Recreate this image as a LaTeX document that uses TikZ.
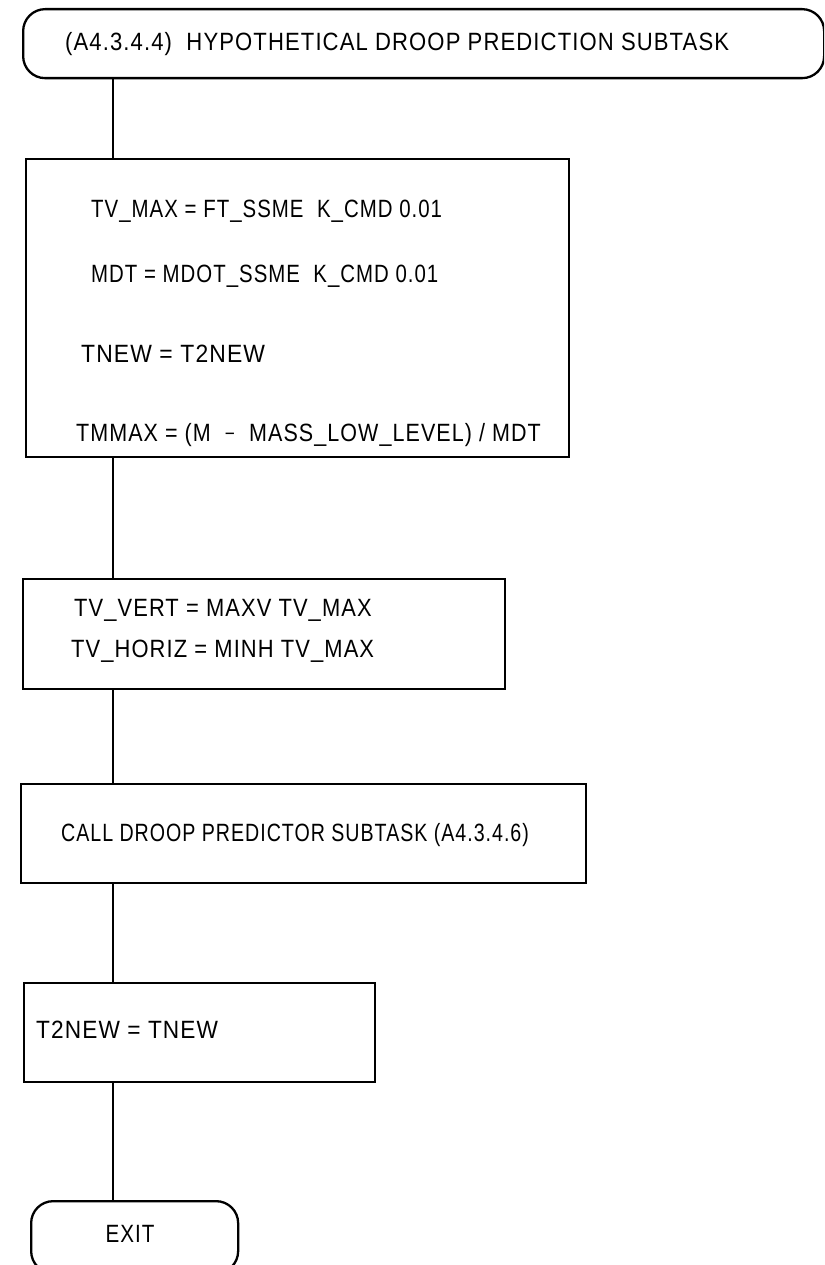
\documentclass[tikz,border=0pt]{standalone}
\usepackage{fontspec}
\usepackage{graphicx}
\setmainfont[LetterSpace=5]{Liberation Sans}
\newcommand{\hsq}[2]{\scalebox{#1}[1]{#2}}
\begin{document}
\begin{tikzpicture}[x=1pt,y=-1pt,line width=2.3pt,
  box/.style={draw,rectangle,inner sep=0pt,anchor=north west},
  term/.style={draw,rectangle,rounded corners=22pt,inner sep=0pt,anchor=north west},
  txt/.style={anchor=base west,inner sep=0pt,font=\fontsize{25}{30}\selectfont},
  conn/.style={draw,line width=2.3pt}]
\useasboundingbox (0,0) rectangle (824,1265);
\clip (0,0) rectangle (824,1265);
\coordinate (cx) at (113,0);
% start terminal
\node[term,minimum width=801pt,minimum height=69pt] (start) at (22,8) {};
\node[txt] (ttl) at (64,51) {\hsq{0.883}{(A4.3.4.4)\ \ HYPOTHETICAL DROOP PREDICTION SUBTASK}};
% box 1
\node[box,minimum width=543pt,minimum height=298pt] (b1) at (25,158) {};
\node[txt] (l1) at (90,218) {\hsq{0.817}{TV\_MAX = FT\_SSME\ \ K\_CMD 0.01}};
\node[txt] (l2) at (90,282) {\hsq{0.816}{MDT = MDOT\_SSME\ \ K\_CMD 0.01}};
\node[txt] (l3) at (80,362) {\hsq{0.916}{TNEW = T2NEW}};
\node[txt] (l4) at (75,441) {\hsq{0.86}{TMMAX = (M\ \ \raisebox{1pt}{\fontsize{20}{24}\selectfont −}\ \ MASS\_LOW\_LEVEL) / MDT}};
% box 2
\node[box,minimum width=482pt,minimum height=110pt] (b2) at (22,578) {};
\node[txt] (l5) at (73,616) {\hsq{0.876}{TV\_VERT = MAXV TV\_MAX}};
\node[txt] (l6) at (70,657) {\hsq{0.877}{TV\_HORIZ = MINH TV\_MAX}};
% box 3
\node[box,minimum width=565pt,minimum height=99pt] (b3) at (20,783) {};
\node[txt] (l7) at (60,841) {\hsq{0.785}{CALL DROOP PREDICTOR SUBTASK (A4.3.4.6)}};
% box 4
\node[box,minimum width=351pt,minimum height=99pt] (b4) at (23,982) {};
\node[txt] (l8) at (35,1038) {\hsq{0.906}{T2NEW = TNEW}};
% exit terminal
\node[term,minimum width=207pt,minimum height=72pt] (exit) at (30,1200) {};
\node[txt,anchor=base] (ex) at (130,1242) {\hsq{0.825}{EXIT}};
% connectors
\draw[conn] (start.south -| cx) -- (b1.north -| cx);
\draw[conn] (b1.south -| cx) -- (b2.north -| cx);
\draw[conn] (b2.south -| cx) -- (b3.north -| cx);
\draw[conn] (b3.south -| cx) -- (b4.north -| cx);
\draw[conn] (b4.south -| cx) -- (exit.north -| cx);
\end{tikzpicture}
\end{document}
